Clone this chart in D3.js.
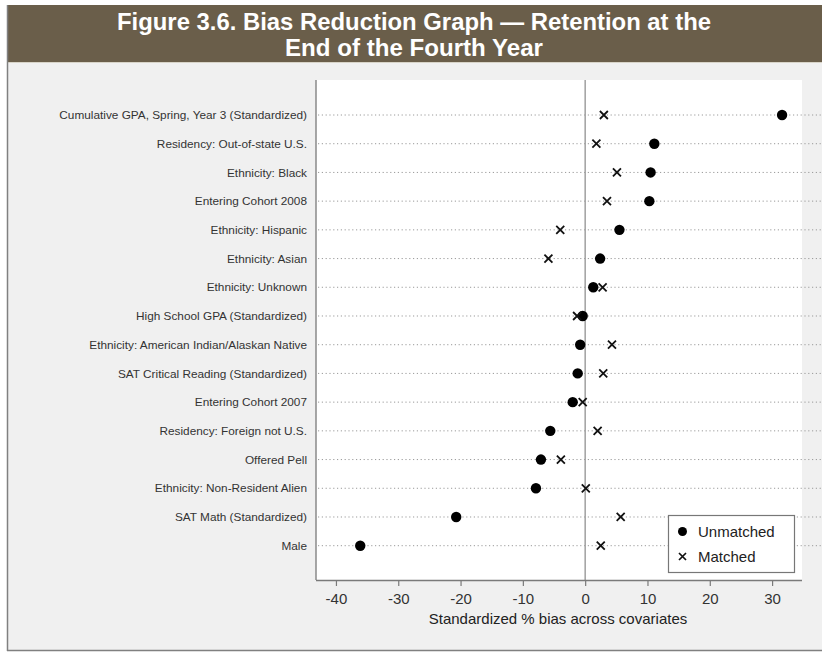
<!DOCTYPE html>
<html>
<head>
<meta charset="utf-8">
<script src="https://cdn.jsdelivr.net/npm/d3@7/dist/d3.min.js"></script>
<style>
  html, body { margin: 0; padding: 0; background: #ffffff; }
  svg { display: block; }
  text { font-family: "Liberation Sans", Arial, sans-serif; }
</style>
</head>
<body>
<svg id="chart" width="822" height="652"></svg>
<script>
const titleLines = ["Figure 3.6. Bias Reduction Graph \u2014 Retention at the", "End of the Fourth Year"];
const covariates = [
  "Cumulative GPA, Spring, Year 3 (Standardized)",
  "Residency: Out-of-state U.S.",
  "Ethnicity: Black",
  "Entering Cohort 2008",
  "Ethnicity: Hispanic",
  "Ethnicity: Asian",
  "Ethnicity: Unknown",
  "High School GPA (Standardized)",
  "Ethnicity: American Indian/Alaskan Native",
  "SAT Critical Reading (Standardized)",
  "Entering Cohort 2007",
  "Residency: Foreign not U.S.",
  "Offered Pell",
  "Ethnicity: Non-Resident Alien",
  "SAT Math (Standardized)",
  "Male"
];
const unmatched = [31.6, 11.1, 10.5, 10.3, 5.5, 2.4, 1.3, -0.4, -0.8, -1.2, -2.0, -5.6, -7.1, -7.9, -20.7, -36.1];
const matched   = [3.0, 1.8, 5.1, 3.5, -4.0, -5.9, 2.8, -1.3, 4.3, 2.9, -0.4, 2.0, -3.9, 0.1, 5.7, 2.5];
const xTicks = [-40, -30, -20, -10, 0, 10, 20, 30];
const xTitle = "Standardized % bias across covariates";
const legendLabels = ["Unmatched", "Matched"];

(function () {
const svg = d3.select("#chart");

// Frame
svg.append("rect").attr("x", 8).attr("y", 5).attr("width", 814).attr("height", 645).attr("fill", "#f0f0f0");
svg.append("rect").attr("x", 8).attr("y", 5).attr("width", 814).attr("height", 57).attr("fill", "#6a5e4a");
svg.append("line").attr("x1", 8).attr("x2", 822).attr("y1", 62.5).attr("y2", 62.5).attr("stroke", "#d8d4c8").attr("stroke-width", 1);
svg.append("line").attr("x1", 7.5).attr("x2", 7.5).attr("y1", 5).attr("y2", 651).attr("stroke", "#808080").attr("stroke-width", 1.5);
svg.append("line").attr("x1", 7).attr("x2", 822).attr("y1", 650.5).attr("y2", 650.5).attr("stroke", "#808080").attr("stroke-width", 1.5);

// Title
const tl = [{t: titleLines[0], y: 30, w: 594}, {t: titleLines[1], y: 56, w: 258}];
svg.selectAll("text.title").data(tl).enter().append("text")
  .attr("class", "title")
  .attr("x", 414).attr("y", d => d.y)
  .attr("text-anchor", "middle")
  .attr("fill", "#ffffff")
  .attr("font-weight", "bold")
  .attr("font-size", 24)
  .attr("textLength", d => d.w)
  .attr("lengthAdjust", "spacingAndGlyphs")
  .text(d => d.t);

// Plot area
const pL = 316, pR = 802, pT = 80, pB = 580;
svg.append("rect").attr("x", pL).attr("y", pT).attr("width", pR - pL).attr("height", pB - pT).attr("fill", "#ffffff");

const x = d3.scaleLinear().domain([-43.2, 34.8]).range([pL, pR]);
const y = d3.scalePoint().domain(covariates).range([115, 545.7]);

// dotted row lines
svg.selectAll("line.row").data(covariates).enter().append("line")
  .attr("class", "row")
  .attr("x1", pL + 2).attr("x2", 822)
  .attr("y1", d => y(d)).attr("y2", d => y(d))
  .attr("stroke", "#9a9a9a").attr("stroke-width", 1)
  .attr("stroke-dasharray", "1.2,2.6");

// zero line
svg.append("line").attr("x1", x(0)).attr("x2", x(0)).attr("y1", pT).attr("y2", pB)
  .attr("stroke", "#a0a0a0").attr("stroke-width", 1.5);

// y axis line
svg.append("line").attr("x1", pL).attr("x2", pL).attr("y1", pT).attr("y2", pB)
  .attr("stroke", "#8a8a8a").attr("stroke-width", 1.5);

const xAxis = d3.axisBottom(x).tickValues(xTicks).tickSize(6).tickPadding(4).tickSizeOuter(0);
const gx = svg.append("g").attr("transform", `translate(0,${pB})`).call(xAxis);
gx.select(".domain").attr("stroke", "#7a7a7a").attr("stroke-width", 1.5).attr("d", `M${pL},0.5H${pR}`);
gx.selectAll(".tick line").attr("stroke", "#7a7a7a").attr("stroke-width", 1.2);
gx.selectAll(".tick text").attr("fill", "#333").attr("font-size", 15)
  .attr("font-family", "'Liberation Sans', Arial, sans-serif").attr("dy", "0.95em")
  .text(d => d < 0 ? "-" + Math.abs(d) : d);

svg.append("text").attr("x", 558).attr("y", 624).attr("text-anchor", "middle")
  .attr("fill", "#222").attr("font-size", 15).text(xTitle);

// y labels
svg.selectAll("text.ylab").data(covariates).enter().append("text")
  .attr("class", "ylab")
  .attr("x", 307).attr("y", d => y(d)).attr("dy", "0.35em")
  .attr("text-anchor", "end").attr("fill", "#333").attr("font-size", 11.8)
  .text(d => d);

// unmatched dots
svg.selectAll("circle.um").data(covariates).enter().append("circle")
  .attr("class", "um")
  .attr("cx", (d, i) => x(unmatched[i])).attr("cy", d => y(d)).attr("r", 5.2)
  .attr("fill", "#000");

// matched crosses
const cs = 4;
const gm = svg.selectAll("g.m").data(covariates).enter().append("g")
  .attr("class", "m")
  .attr("transform", (d, i) => `translate(${x(matched[i])},${y(d)})`);
gm.append("path").attr("d", `M${-cs},${-cs}L${cs},${cs}M${-cs},${cs}L${cs},${-cs}`)
  .attr("stroke", "#111").attr("stroke-width", 1.8).attr("fill", "none");

// legend
const lg = svg.append("g");
lg.append("rect").attr("x", 668.5).attr("y", 515.5).attr("width", 126).attr("height", 57)
  .attr("fill", "#fff").attr("stroke", "#777").attr("stroke-width", 1.2);
lg.append("circle").attr("cx", 682.5).attr("cy", 531.5).attr("r", 4.5).attr("fill", "#000");
lg.append("path").attr("transform", "translate(682.5,556.5)")
  .attr("d", `M-3.5,-3.5L3.5,3.5M-3.5,3.5L3.5,-3.5`).attr("stroke", "#111").attr("stroke-width", 1.7);
lg.selectAll("text.lg").data(legendLabels).enter().append("text")
  .attr("class", "lg")
  .attr("x", 698).attr("y", (d, i) => 531.5 + i * 25).attr("dy", "0.36em")
  .attr("fill", "#222").attr("font-size", 15).text(d => d);
})();
</script>
</body>
</html>
